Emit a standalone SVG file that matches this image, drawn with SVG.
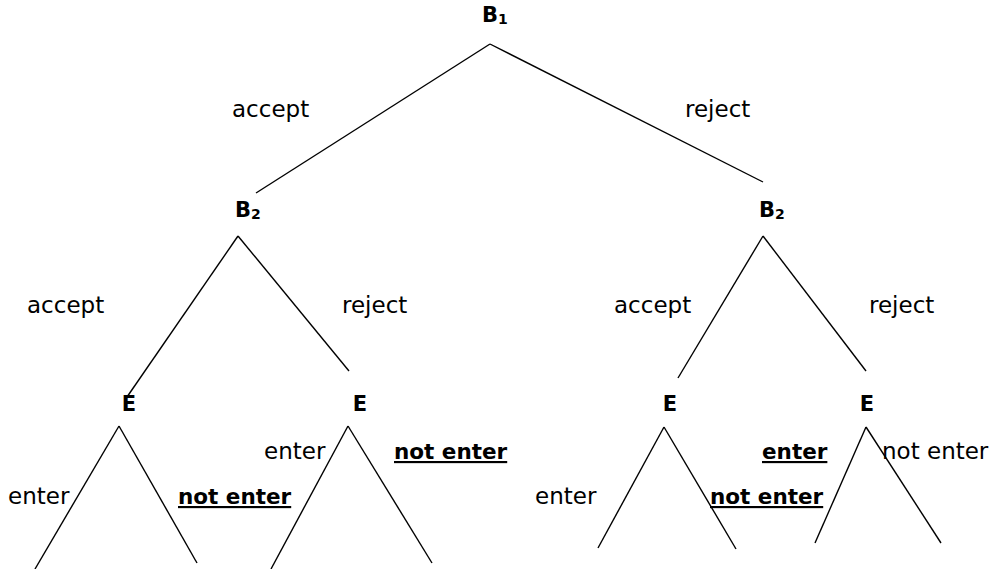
<svg xmlns="http://www.w3.org/2000/svg" width="997" height="569" viewBox="0 0 997 569">
<style>
.e{stroke:#000;stroke-width:1.4;fill:none}
.n{font-family:"DejaVu Sans",Verdana,sans-serif;font-weight:bold;font-size:21px;fill:#000}
.s{font-size:14px}
.l{font-family:"DejaVu Sans",Verdana,sans-serif;font-size:23px;fill:#000}
.b{font-family:"DejaVu Sans",Verdana,sans-serif;font-size:21.5px;font-weight:bold;fill:#000;text-decoration:underline}
</style>
<rect width="997" height="569" fill="#fff"/>
<g id="connectors">
<line class="e" x1="490" y1="44" x2="256" y2="193"/>
<line class="e" x1="490" y1="44" x2="763" y2="182"/>
<line class="e" x1="238" y1="236" x2="127" y2="397"/>
<line class="e" x1="238" y1="236" x2="349" y2="371"/>
<line class="e" x1="763" y1="236" x2="678" y2="378"/>
<line class="e" x1="763" y1="236" x2="866" y2="371"/>
<line class="e" x1="119" y1="426" x2="35" y2="569"/>
<line class="e" x1="119" y1="426" x2="197" y2="563"/>
<line class="e" x1="348" y1="426" x2="271" y2="569"/>
<line class="e" x1="348" y1="426" x2="432" y2="563"/>
<line class="e" x1="664" y1="427" x2="598" y2="548"/>
<line class="e" x1="664" y1="427" x2="736" y2="549"/>
<line class="e" x1="866" y1="427" x2="815" y2="543"/>
<line class="e" x1="866" y1="427" x2="941" y2="543"/>
</g>
<g id="B1"><text class="n" x="482" y="22">B<tspan class="s" dy="2">1</tspan></text></g>
<g id="B2L"><text class="n" x="235" y="217">B<tspan class="s" dy="2">2</tspan></text></g>
<g id="B2R"><text class="n" x="759" y="217">B<tspan class="s" dy="2">2</tspan></text></g>
<g id="E1"><text class="n" x="129" y="411" text-anchor="middle">E</text></g>
<g id="E2"><text class="n" x="360" y="411" text-anchor="middle">E</text></g>
<g id="E3"><text class="n" x="670" y="411" text-anchor="middle">E</text></g>
<g id="E4"><text class="n" x="867" y="411" text-anchor="middle">E</text></g>
<g id="labels">
<text class="l" x="232" y="117">accept</text>
<text class="l" x="685" y="117">reject</text>
<text class="l" x="27" y="313">accept</text>
<text class="l" x="342" y="313">reject</text>
<text class="l" x="614" y="313">accept</text>
<text class="l" x="869" y="313">reject</text>
<text class="l" x="264" y="459">enter</text>
<text class="b" x="394" y="459">not enter</text>
<text class="b" x="762" y="459">enter</text>
<text class="l" x="882" y="459">not enter</text>
<text class="l" x="8" y="504">enter</text>
<text class="b" x="178" y="504">not enter</text>
<text class="l" x="535" y="504">enter</text>
<text class="b" x="710" y="504">not enter</text>
</g>
</svg>
